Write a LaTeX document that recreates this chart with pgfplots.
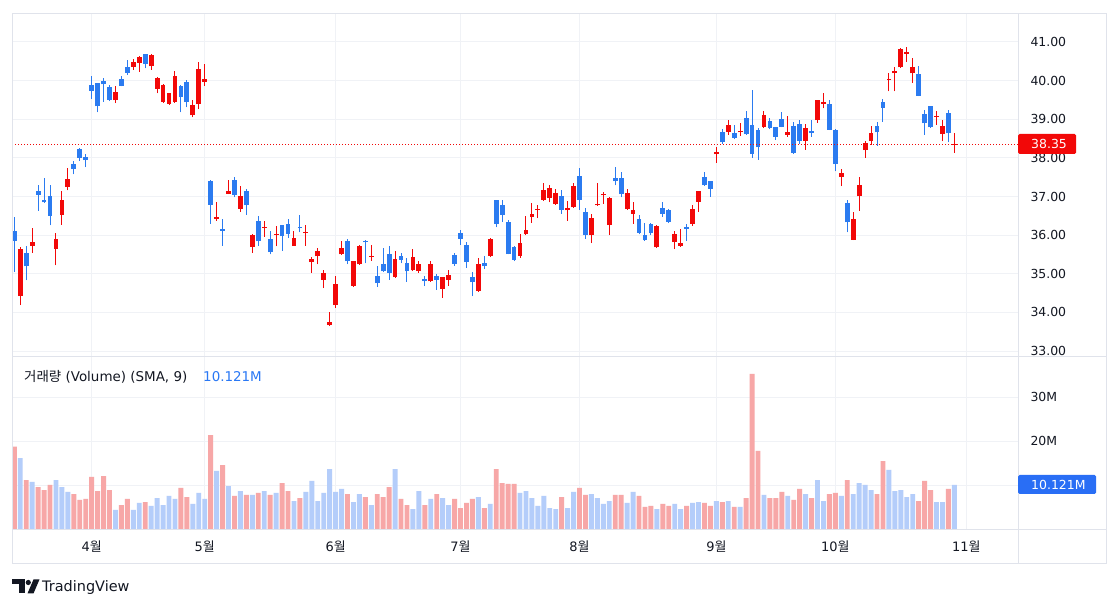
\documentclass[border=0pt]{standalone}
\usepackage{pgfplots}
\pgfplotsset{compat=1.18}
\usepackage{pgfplotstable}
\usepackage{fontspec}
\setmainfont{DejaVu Sans}
\newfontfamily\kr{Noto Sans CJK KR}
\newcommand\wol{{\kr 월}}
\definecolor{cRed}{RGB}{242,8,8}
\definecolor{cBlue}{RGB}{43,123,240}
\definecolor{vPink}{RGB}{247,167,167}
\definecolor{vBlue}{RGB}{180,205,250}
\definecolor{cGrid}{RGB}{240,242,246}
\definecolor{cFrame}{RGB}{224,227,235}
\definecolor{cText}{RGB}{19,23,34}
\definecolor{cBadge}{RGB}{41,110,245}
\definecolor{cLegVal}{RGB}{41,120,245}

% up candles (red), volume drawn light blue
\pgfplotstableread{
i o h l c v
1 34.42 35.69 34.19 35.65 16.2
3 35.73 36.19 35.55 35.83 10.8
7 35.65 36.06 35.22 35.90 11.2
8 36.53 37.14 36.27 36.91 9.6
9 37.25 37.75 37.16 37.45 8.5
17 39.49 39.85 39.42 39.70 4.4
20 40.36 40.55 40.28 40.48 4.4
21 40.46 40.64 40.23 40.60 6.0
23 40.37 40.70 40.28 40.66 5.3
24 39.79 40.09 39.67 40.06 7.1
25 39.44 39.90 39.43 39.89 5.5
26 39.39 39.69 39.37 39.67 7.6
27 39.44 40.25 39.43 40.12 6.9
30 39.10 39.50 39.05 39.37 5.8
31 39.39 40.48 39.26 40.30 8.3
32 39.97 40.43 39.86 40.04 6.9
34 36.42 36.87 36.37 36.48 13.3
36 37.07 37.44 37.06 37.15 9.8
38 36.68 37.26 36.60 37.01 8.7
40 35.70 36.03 35.55 36.00 7.8
42 36.19 36.37 35.96 36.21 8.7
44 36.01 36.23 35.71 36.03 8.3
47 35.73 36.11 35.72 35.92 6.4
49 36.05 36.27 35.73 36.09 8.5
50 35.30 35.44 35.03 35.39 11.0
51 35.45 35.67 35.24 35.59 6.4
52 34.84 35.11 34.63 35.03 8.3
53 33.67 34.00 33.66 33.74 13.7
54 34.19 34.95 34.12 34.73 8.5
55 35.50 35.85 35.49 35.66 9.2
57 34.69 35.34 34.66 35.32 6.2
58 35.24 35.74 35.23 35.72 8.0
60 35.44 35.74 35.34 35.46 5.5
64 34.91 35.59 34.90 35.38 13.7
67 35.09 35.64 35.07 35.43 4.6
68 35.07 35.34 35.02 35.26 8.7
70 34.80 35.34 34.79 35.26 6.9
72 34.61 34.92 34.38 34.91 7.1
73 34.84 35.09 34.69 34.97 5.5
78 34.55 35.40 34.54 35.25 7.3
80 35.46 35.92 35.43 35.91 5.8
85 35.46 36.03 35.42 35.79 8.3
86 36.03 36.49 36.00 36.14 8.7
87 36.47 36.83 36.32 36.54 7.1
88 36.66 36.77 36.44 36.68 5.3
89 36.91 37.34 36.89 37.17 7.6
90 36.96 37.29 36.85 37.21 4.8
91 36.81 37.19 36.79 37.09 4.6
93 36.64 36.89 36.37 36.71 4.8
94 36.72 37.34 36.71 37.28 8.5
97 36.00 36.55 35.79 36.45 8.0
98 36.77 37.34 36.76 36.79 7.1
99 37.03 37.11 36.81 37.05 5.8
100 36.26 36.98 36.00 36.97 6.4
103 36.67 37.19 36.66 37.10 6.0
104 36.55 36.85 36.30 36.66 8.5
108 35.68 36.26 35.67 36.23 4.6
111 35.82 36.11 35.64 36.02 5.8
112 35.72 36.15 35.70 35.79 4.6
114 36.30 36.77 36.24 36.67 6.0
115 36.87 37.14 36.60 37.13 6.2
118 38.09 38.27 37.87 38.16 6.4
120 38.67 38.98 38.60 38.85 6.4
122 38.66 38.90 38.57 38.70 5.1
126 38.81 39.21 38.77 39.11 7.8
130 38.60 39.09 38.55 38.66 7.6
133 38.44 38.88 38.21 38.77 8.0
135 38.98 39.51 38.91 39.50 11.2
136 39.39 39.67 39.28 39.45 6.4
139 37.51 37.72 37.27 37.61 7.6
141 35.88 36.60 35.87 36.43 8.0
142 37.00 37.50 36.63 37.29 10.5
143 38.20 38.43 38.00 38.39 10.1
144 38.43 38.83 38.34 38.64 8.9
147 40.01 40.19 39.72 40.03 13.5
148 40.19 40.34 39.72 40.25 8.7
149 40.34 40.84 40.33 40.83 8.9
150 40.70 40.88 40.49 40.73 7.3
151 40.19 40.58 39.95 40.34 8.0
155 39.06 39.22 38.86 39.08 6.2
156 38.62 38.99 38.43 38.83 6.2
158 38.33 38.64 38.13 38.35 10.121
}\up

% down candles (blue), volume drawn pink
\pgfplotstableread{
i o h l c v
0 36.10 36.47 35.05 35.86 18.8
2 35.54 35.73 34.83 35.19 11.2
4 37.14 37.30 36.63 37.04 9.6
5 36.91 37.49 36.84 36.85 8.9
6 37.01 37.29 36.25 36.50 10.1
10 37.83 37.92 37.57 37.71 8.0
11 38.22 38.25 37.92 38.00 6.7
12 38.02 38.11 37.76 37.94 6.9
13 39.88 40.13 39.52 39.74 11.9
14 39.93 39.95 39.18 39.33 8.7
15 39.99 40.08 39.45 39.90 12.1
16 39.84 39.88 39.47 39.50 8.9
18 40.04 40.12 39.85 39.87 5.5
19 40.34 40.53 40.15 40.21 6.9
22 40.68 40.69 40.32 40.44 6.2
28 39.86 39.88 39.18 39.57 9.4
29 39.97 40.02 39.31 39.44 7.3
33 37.39 37.43 36.30 36.79 21.4
35 36.15 36.43 35.73 36.11 14.6
37 37.44 37.50 36.98 37.04 7.6
39 37.15 37.20 36.53 36.77 7.8
41 36.36 36.49 35.73 35.84 8.3
43 35.90 36.10 35.50 35.56 7.8
45 36.26 36.27 35.60 35.97 10.5
46 36.29 36.43 35.92 36.04 8.7
48 36.20 36.53 36.07 36.18 7.1
56 35.85 35.91 35.25 35.32 8.0
59 35.85 35.87 35.27 35.81 7.3
61 34.93 35.19 34.66 34.76 8.0
62 35.26 35.66 35.04 35.06 7.3
63 35.51 35.72 34.85 35.03 9.6
65 35.46 35.53 35.27 35.36 6.9
66 35.29 35.40 34.79 35.06 5.5
69 34.87 34.93 34.68 34.81 5.5
71 34.95 35.00 34.59 34.84 8.0
74 35.49 35.53 35.21 35.26 6.9
75 36.06 36.13 35.74 35.91 4.8
76 35.74 35.83 35.16 35.30 6.0
77 34.91 35.04 34.42 34.78 6.9
79 35.27 35.46 35.12 35.19 4.8
81 36.91 36.92 36.20 36.30 13.7
82 36.79 36.91 36.34 36.53 10.5
83 36.35 36.40 35.50 35.51 10.3
84 35.69 35.71 35.33 35.36 10.3
92 37.02 37.17 36.55 36.66 7.3
95 37.53 37.74 36.66 36.92 9.4
96 36.61 36.71 35.91 36.00 7.8
101 37.47 37.77 37.29 37.39 7.8
102 37.47 37.63 36.98 37.06 7.8
105 36.41 36.51 36.02 36.06 7.6
106 36.00 36.32 35.86 35.87 5.1
107 36.28 36.32 36.00 36.06 5.3
109 36.71 36.87 36.47 36.55 5.8
110 36.64 36.68 36.31 36.34 5.3
113 36.21 36.30 35.85 36.16 5.3
116 37.50 37.63 37.28 37.29 6.0
117 37.39 37.40 36.99 37.20 5.3
119 38.67 38.74 38.36 38.40 6.2
121 38.64 38.85 38.48 38.51 5.1
123 39.03 39.21 38.60 38.61 7.1
124 38.85 39.76 38.00 38.11 35.3
125 38.73 38.77 37.95 38.27 17.8
127 38.96 39.03 38.74 38.77 7.1
128 38.79 38.81 38.47 38.55 7.1
129 39.00 39.20 38.79 38.81 8.5
131 38.83 38.94 38.11 38.12 6.7
132 38.88 38.98 38.36 38.44 9.2
134 38.70 38.98 38.55 38.64 7.1
137 39.39 39.50 38.72 38.73 8.0
138 38.73 38.74 37.65 37.84 8.3
140 36.82 36.91 36.07 36.33 11.2
145 38.83 38.94 38.32 38.66 8.0
146 39.45 39.52 38.94 39.30 15.5
152 40.17 40.38 39.60 39.61 6.4
153 39.13 39.23 38.60 38.89 11.0
154 39.34 39.35 38.78 38.79 8.9
157 39.16 39.24 38.40 38.64 9.2
}\down

\pgfplotsset{
  tvaxis/.style={
    scale only axis, width=1006bp,
    xmin=-0.387, xmax=168.69,
    axis line style={draw=none},
    major tick length=0pt, tick style={draw=none},
    xtick={13,32,54,75,95,118,138,160},
    xmajorgrids, ymajorgrids,
    grid style={draw=cGrid, line width=1bp},
    yticklabel pos=right,
    yticklabel style={font=\fontsize{12.5}{14}\selectfont, text=cText, xshift=9bp},
    xticklabel style={font=\fontsize{13}{15}\selectfont, text=cText, anchor=base, yshift=-22bp},
  },
  wick/.style={draw=none, mark=none, forget plot,
    error bars/.cd, y dir=plus, y explicit, error mark=none,
    error bar style={draw=#1, solid, line width=1bp}},
  body/.style={draw=none, mark=none, forget plot,
    error bars/.cd, y dir=plus, y explicit, error mark=none,
    error bar style={draw=#1, solid, line width=4.8bp}},
}

\begin{document}
\begin{tikzpicture}[x=1bp,y=1bp]
\fill[white] (0,0) rectangle (1118,609);

% ---------- price pane ----------
\begin{axis}[tvaxis, at={(12bp,253bp)}, anchor=south west, height=342bp,
  ymin=32.871, ymax=41.725,
  ytick={33,34,35,36,37,38,39,40,41},
  yticklabels={33.00,34.00,35.00,36.00,37.00,38.00,39.00,40.00,41.00},
  xticklabels={}]
\addplot[wick=cRed] table[x=i, y=l, y error plus expr=\thisrow{h}-\thisrow{l}] {\up};
\addplot[body=cRed] table[x=i, y expr={min(\thisrow{o},\thisrow{c})},
  y error plus expr={max(abs(\thisrow{c}-\thisrow{o}),0.028)}] {\up};
\addplot[wick=cBlue] table[x=i, y=l, y error plus expr=\thisrow{h}-\thisrow{l}] {\down};
\addplot[body=cBlue] table[x=i, y expr={min(\thisrow{o},\thisrow{c})},
  y error plus expr={max(abs(\thisrow{c}-\thisrow{o}),0.028)}] {\down};
\addplot[cRed, line width=1bp, dash pattern=on 1bp off 2bp, forget plot]
  coordinates {(-0.387,38.35) (168.69,38.35)};
\end{axis}

% ---------- volume pane ----------
\begin{axis}[tvaxis, at={(12bp,79bp)}, anchor=south west, height=173bp,
  ymin=-0.16, ymax=39.16,
  ytick={10,20,30}, yticklabels={,20M,30M},
  xticklabels={4\wol,5\wol,6\wol,7\wol,8\wol,9\wol,10\wol,11\wol}]
\addplot[ybar, bar width=4.9bp, bar shift=0pt, fill=vBlue, draw=none, forget plot]
  table[x=i, y=v] {\up};
\addplot[ybar, bar width=4.9bp, bar shift=0pt, fill=vPink, draw=none, forget plot]
  table[x=i, y=v] {\down};
\end{axis}

% ---------- frame ----------
\draw[cFrame, line width=1bp] (12,45) rectangle (1106,595);
\draw[cFrame, line width=1bp] (1018,45) -- (1018,595);
\draw[cFrame, line width=1bp] (12,252.5) -- (1106,252.5);
\draw[cFrame, line width=1bp] (12,79) -- (1106,79);

% ---------- badges ----------
\fill[cRed, rounded corners=1.5bp] (1018,455) rectangle (1076,475);
\node[anchor=west, inner sep=0, text=white, font=\fontsize{12.5}{14}\selectfont] at (1031,464.7) {38.35};
\fill[cBadge, rounded corners=1.5bp] (1018,115) rectangle (1096,134);
\node[anchor=west, inner sep=0, text=white, font=\fontsize{12.5}{14}\selectfont] at (1031,124.5) {10.121M};

% ---------- legend ----------
\node[anchor=base west, inner sep=0, text=cText, font=\fontsize{13.5}{15}\selectfont] at (24,227.5) {{\kr 거래량} (Volume) (SMA, 9)};
\node[anchor=base west, inner sep=0, text=cLegVal, font=\fontsize{13.5}{15}\selectfont] at (203,227.5) {10.121M};

% ---------- logo ----------
\fill[cText] (12,29.5) rectangle (24.5,24.5);
\fill[cText] (18.5,29.5) rectangle (24.5,15.5);
\fill[cText] (28.3,26.5) circle (2.6);
\fill[cText] (27.5,15.5) -- (33.5,15.5) -- (39.5,29.5) -- (33.5,29.5) -- cycle;
\node[anchor=base west, inner sep=0, text=cText, font=\fontsize{14.5}{16}\selectfont] at (42,17) {TradingView};
\end{tikzpicture}
\end{document}
